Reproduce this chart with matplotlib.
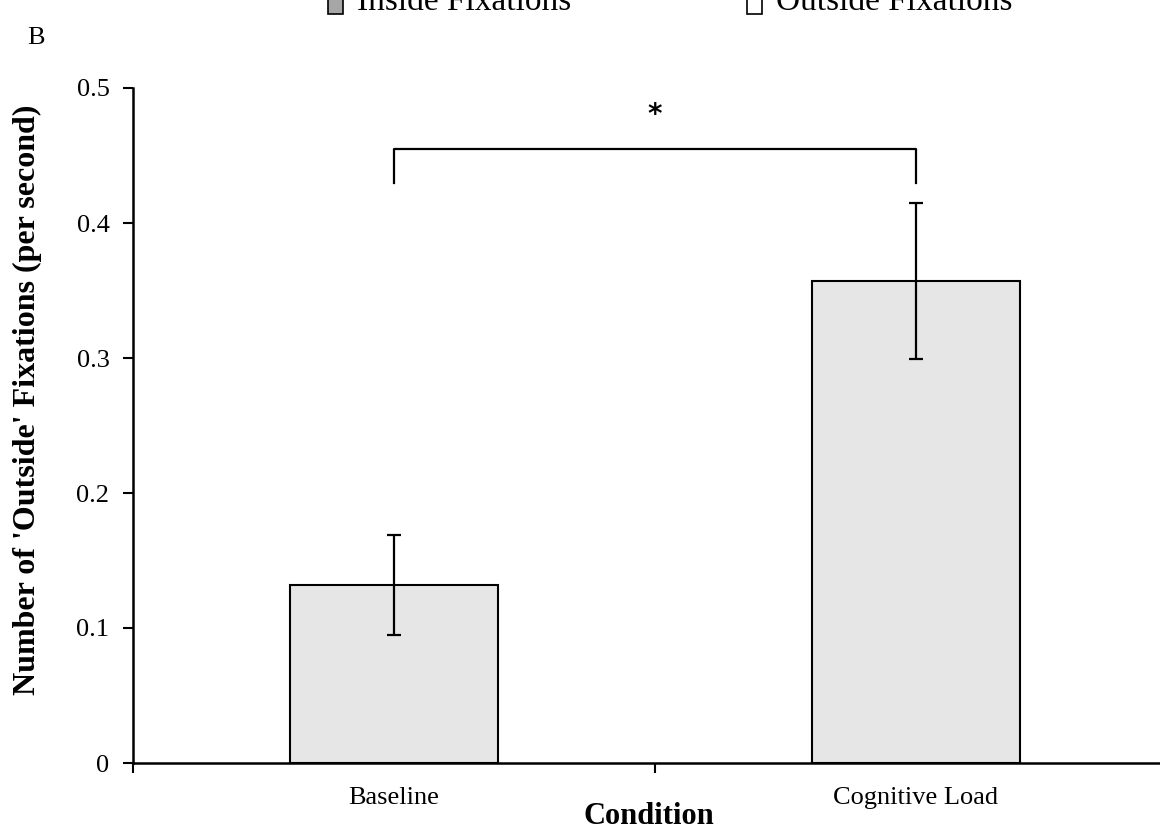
import matplotlib
matplotlib.use("Agg")
import matplotlib.pyplot as plt
from matplotlib.patches import Rectangle

# data
conditions = ["Baseline", "Cognitive Load"]
means = [0.132, 0.357]
errors = [0.037, 0.058]
y_ticks = [0, 0.1, 0.2, 0.3, 0.4, 0.5]
y_tick_labels = ["0", "0.1", "0.2", "0.3", "0.4", "0.5"]
legend_names = ["Inside Fixations", "Outside Fixations"]
legend_colors = ["#a6a6a6", "#ffffff"]
bracket_y = 0.455
bracket_drop = 0.43
star_y = 0.48

plt.rcParams["font.family"] = ["Liberation Serif", "DejaVu Serif"]

fig = plt.figure(figsize=(11.6, 8.35), dpi=100)
ax = fig.add_axes([133 / 1160, 1 - 763 / 835, 1044 / 1160, 675 / 835])

x = list(range(len(conditions)))
ax.bar(x, means, width=0.4, color="#e6e6e6", edgecolor="black", linewidth=1.5, zorder=2)
ax.errorbar(x, means, yerr=errors, fmt="none", ecolor="black", elinewidth=1.6,
            capsize=5, capthick=1.6, zorder=3)

# significance bracket
ax.plot([x[0], x[0], x[1], x[1]], [bracket_drop, bracket_y, bracket_y, bracket_drop],
        color="black", lw=1.6, clip_on=False)
ax.text((x[0] + x[1]) / 2, star_y, "*", ha="center", va="center",
        fontsize=20, fontweight="bold", family="DejaVu Sans")

ax.set_xlim(-0.5, 1.5)
ax.set_ylim(0, 0.5)
ax.set_yticks(y_ticks)
ax.set_yticklabels(y_tick_labels)
ax.set_xticks(x)
ax.set_xticklabels(conditions)
ax.set_xticks([-0.5, 0.5, 1.5], minor=True)
ax.tick_params(axis="x", which="major", length=0, pad=17, labelsize=19)
ax.tick_params(axis="x", which="minor", length=7, width=1.5, direction="out")
ax.tick_params(axis="y", length=7, width=1.5, direction="out", pad=10, labelsize=19)

for side in ["top", "right"]:
    ax.spines[side].set_visible(False)
ax.spines["left"].set_linewidth(1.8)
ax.spines["bottom"].set_linewidth(1.8)

# axis titles placed in figure pixels
fig.text(649 / 1160, 1 - 816 / 835, "Condition", fontsize=22, fontweight="bold",
         ha="center", va="center")
fig.text(27 / 1160, 1 - 400 / 835, "Number of 'Outside' Fixations (per second)",
         fontsize=23, fontweight="bold", rotation=90, ha="center", va="center")

# panel letter
fig.text(27 / 1160, 1 - 44 / 835, "B", fontsize=19, ha="left", va="baseline")

# cut-off legend at the top
legend_x = [328, 747]
for lx, name, col in zip(legend_x, legend_names, legend_colors):
    fig.patches.append(Rectangle((lx / 1160, 1 - 14 / 835), 15 / 1160, 20 / 835,
                                 transform=fig.transFigure, facecolor=col,
                                 edgecolor="black", linewidth=1.2))
    fig.text((lx + 29) / 1160, 1 - 10 / 835, name, fontsize=24, ha="left", va="baseline")

fig.savefig("out.png", dpi=100)
